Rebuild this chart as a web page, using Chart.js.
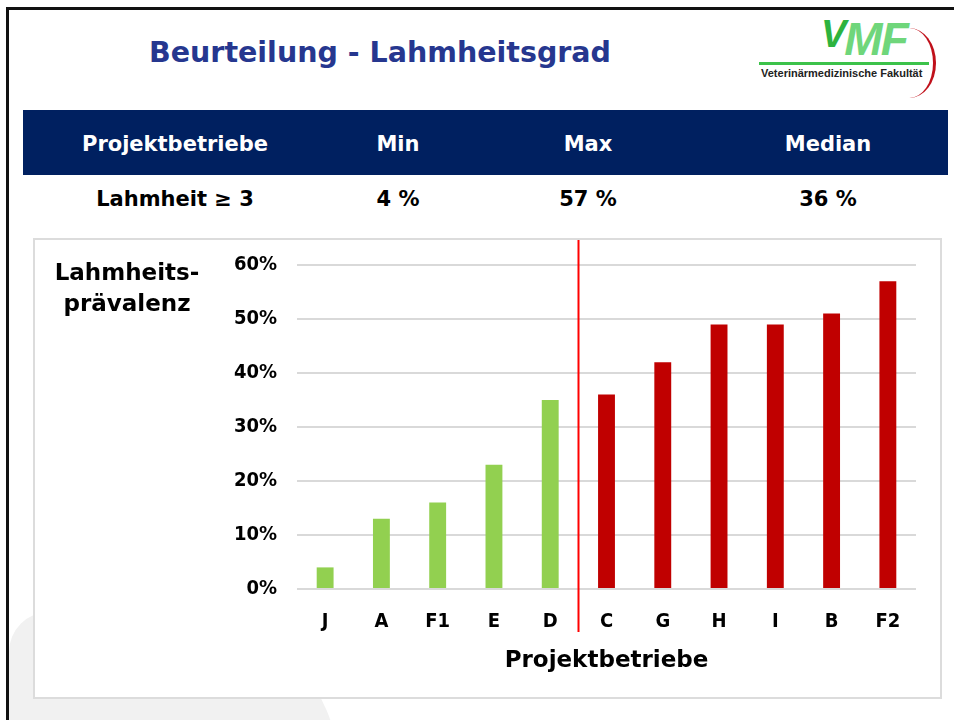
<!DOCTYPE html>
<html>
<head>
<meta charset="utf-8">
<script src="https://cdn.jsdelivr.net/npm/chart.js@4.4.1/dist/chart.umd.min.js"></script>
<style>
  html, body { margin: 0; padding: 0; background: #fff; }
  body { width: 954px; height: 720px; position: relative; overflow: hidden;
         font-family: "DejaVu Sans", sans-serif; font-weight: bold; }
  .frame { position: absolute; left: 6px; top: 7px; width: 980px; height: 760px; border: 3px solid #111; box-sizing: border-box; }
  .blob { position: absolute; left: 9px; top: 612px; width: 330px; height: 200px; background: #f1f1f1; border-radius: 40px 160px 0 0; }
  .title { position: absolute; left: 100px; width: 560px; top: 36px; text-align: center; color: #26378f; font-size: 28.5px; }
  .band { position: absolute; left: 23px; top: 110px; width: 925px; height: 65px; background: #002060; }
  .cell { position: absolute; width: 260px; margin-left: -130px; text-align: center; font-size: 21px; }
  .head { top: 132px; color: #fff; }
  .row { top: 187px; color: #000; }
  .box { position: absolute; left: 33px; top: 238px; width: 905px; height: 457px; border: 2px solid #dcdcdc; background: #fff; }
  .box canvas { position: absolute; left: 0; top: 0; }
  .ytitle { position: absolute; left: 12px; top: 17px; width: 160px; text-align: center; font-size: 23px; line-height: 31px; color: #000; }
  .logo { position: absolute; left: 755px; top: 12px; width: 190px; height: 75px; }
  .vmf { position: absolute; left: 66px; top: 0px; font-family: "Liberation Sans", Arial, sans-serif; font-style: italic; font-weight: bold; font-size: 46px; letter-spacing: -2px; }
  .vmf .v { color: #2db33e; font-size: 38px; position: relative; top: -8px; }
  .vmf .mf { color: #6fd67b; }
  .arc { position: absolute; left: 128px; top: 16px; width: 50px; height: 70px; border-right: 3px solid #c0101a; border-radius: 50%; }
  .gline { position: absolute; left: 4px; top: 50px; width: 170px; height: 3px; background: #3cc24a; }
  .fak { position: absolute; left: 6px; top: 55px; font-family: "Liberation Sans", Arial, sans-serif; font-size: 11px; font-weight: bold; color: #222; white-space: nowrap; }
</style>
</head>
<body>
<div class="blob"></div>
<div class="frame"></div>

<div class="title">Beurteilung - Lahmheitsgrad</div>

<div class="logo">
  <div class="arc"></div>
  <div class="vmf"><span class="v">V</span><span class="mf">MF</span></div>
  <div class="gline"></div>
  <div class="fak">Veterinärmedizinische Fakultät</div>
</div>

<div class="band"></div>
<div class="cell head" style="left:175px">Projektbetriebe</div>
<div class="cell head" style="left:398px">Min</div>
<div class="cell head" style="left:588px">Max</div>
<div class="cell head" style="left:828px">Median</div>
<div class="cell row" style="left:175px">Lahmheit ≥ 3</div>
<div class="cell row" style="left:398px">4 %</div>
<div class="cell row" style="left:588px">57 %</div>
<div class="cell row" style="left:828px">36 %</div>

<div class="box">
  <canvas id="chart" width="905" height="457"></canvas>
  <div class="ytitle">Lahmheits-<br>prävalenz</div>
</div>

<script>
  // Betriebe, sortiert nach Prävalenz (Anteil Lahmheit >= 3)
  var betriebe = ['J', 'A', 'F1', 'E', 'D', 'C', 'G', 'H', 'I', 'B', 'F2'];
  var praevalenz = [4, 13, 16, 23, 35, 36, 42, 49, 49, 51, 57];
  var yTicks = [0, 10, 20, 30, 40, 50, 60];
  var letzterUnterMedian = 'D';

  var TICKFONT = { family: '"DejaVu Sans Condensed", "DejaVu Sans", sans-serif', weight: 'bold', size: 20 };
  var TITLEFONT = { family: '"DejaVu Sans", sans-serif', weight: 'bold', size: 23 };
  var splitIdx = betriebe.indexOf(letzterUnterMedian);

  var barColors = praevalenz.map(function (v, i) {
    return i <= splitIdx ? '#92d050' : '#c00000';
  });

  // rote Trennlinie zwischen D und C
  var splitLine = {
    id: 'splitLine',
    afterDatasetsDraw: function (chart) {
      var x = chart.scales.x;
      var px = (x.getPixelForValue(splitIdx) + x.getPixelForValue(splitIdx + 1)) / 2;
      var ctx = chart.ctx;
      ctx.save();
      ctx.strokeStyle = '#ff0000';
      ctx.lineWidth = 2;
      ctx.beginPath();
      ctx.moveTo(Math.round(px) + 0.5, 0);
      ctx.lineTo(Math.round(px) + 0.5, chart.chartArea.bottom + 43);
      ctx.stroke();
      ctx.restore();
    }
  };

  new Chart(document.getElementById('chart'), {
    type: 'bar',
    data: {
      labels: betriebe,
      datasets: [{
        data: praevalenz,
        backgroundColor: barColors,
        borderWidth: 0,
        categoryPercentage: 1,
        barPercentage: 0.3
      }]
    },
    options: {
      responsive: false,
      animation: false,
      layout: { padding: { top: 0, right: 24, bottom: 0, left: 0 } },
      plugins: { legend: { display: false }, tooltip: { enabled: false } },
      scales: {
        x: {
          grid: { display: false },
          border: { display: false },
          ticks: { color: '#000', font: TICKFONT, padding: 13 },
          title: {
            display: true, text: 'Projektbetriebe', color: '#000',
            font: TITLEFONT, padding: { top: 8, bottom: 22 }
          },
          afterFit: function (s) { s.height = 108; }
        },
        y: {
          min: 0, max: 60,
          afterBuildTicks: function (s) { s.ticks = yTicks.map(function (v) { return { value: v }; }); },
          grid: { color: '#d9d9d9', lineWidth: 2, drawTicks: true, tickLength: 7, tickColor: 'rgba(0,0,0,0)' },
          border: { display: false },
          ticks: {
            color: '#000', font: TICKFONT, padding: 13,
            callback: function (v) { return v + '%'; }
          },
          afterFit: function (s) { s.width = 262; }
        }
      }
    },
    plugins: [splitLine]
  });
</script>
</body>
</html>
